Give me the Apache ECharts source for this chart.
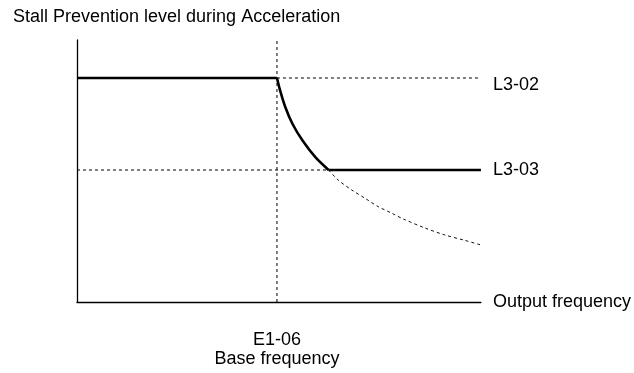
<!DOCTYPE html>
<html>
<head>
<meta charset="utf-8">
<script src="https://cdn.jsdelivr.net/npm/echarts@6/dist/echarts.min.js"></script>
<style>
  html, body { margin: 0; padding: 0; background: #fff; }
  #chart { width: 634px; height: 373px; }
</style>
</head>
<body>
<div id="chart"></div>
<script>
// values (frequency in % of axis, level in arbitrary units)
const baseFreq = 50;
const freqMax = 101;
const levelMax = 131;
const levelHigh = 112; // L3-02
const levelLow = 66;   // L3-03

// solid falling curve from base frequency down to L3-03
const curveX = [50, 50.8, 52.1, 53.9, 56.4, 59.6, 62.9];
const curveY = [112, 105.7, 97.4, 89, 80.7, 72.4, 66];

// dotted continuation of the curve below L3-03
const tailX = [62.9, 65.3, 68.7, 72, 75.3, 78.7, 81.6, 87, 92, 97, 101];
const tailY = [66, 61, 56, 51.9, 47.7, 44.4, 41.5, 37, 33.5, 30.8, 28.5];

const font = "Liberation Sans";
const txt = { color: "#000", fontFamily: font, fontSize: 18 };

const zip = (xs, ys) => xs.map((x, i) => [x, ys[i]]);

const dashStyle = { color: "#000", width: 1, type: [3, 3] };
const solidStyle = { color: "#000", width: 2.6 };

const chart = echarts.init(document.getElementById("chart"));
chart.setOption({
  animation: false,
  title: {
    text: "Stall Prevention level during Acceleration",
    left: 13,
    top: 8,
    padding: 0,
    textStyle: Object.assign({ fontWeight: "normal" }, txt),
  },
  grid: { left: 77, top: 40, right: 153, bottom: 71 },
  xAxis: {
    type: "value",
    min: 0,
    max: freqMax,
    name: "Output frequency",
    nameLocation: "end",
    nameGap: 12,
    nameTextStyle: Object.assign({ verticalAlign: "middle" }, txt),
    axisLine: { show: true, lineStyle: { color: "#000", width: 1.3 } },
    axisTick: { show: false },
    splitLine: { show: false },
    axisLabel: {
      customValues: [baseFreq],
      formatter: () => "E1-06\nBase frequency",
      margin: 29,
      lineHeight: 19,
      color: "#000",
      fontFamily: font,
      fontSize: 18,
    },
  },
  yAxis: {
    type: "value",
    min: 0,
    max: levelMax,
    axisLine: { show: true, lineStyle: { color: "#000", width: 1.3 } },
    axisTick: { show: false },
    axisLabel: { show: false },
    splitLine: { show: false },
  },
  series: [
    {
      type: "line",
      data: [[baseFreq, 0], [baseFreq, levelMax]],
      symbol: "none",
      lineStyle: dashStyle,
      z: 1,
    },
    {
      type: "line",
      data: [[baseFreq, levelHigh], [freqMax, levelHigh]],
      symbol: "none",
      lineStyle: dashStyle,
      endLabel: Object.assign({ show: true, formatter: "L3-02", distance: 12, offset: [0, 7] }, txt),
      z: 1,
    },
    {
      type: "line",
      data: [[0, levelLow], [curveX[curveX.length - 1], levelLow]],
      symbol: "none",
      lineStyle: dashStyle,
      z: 1,
    },
    {
      type: "line",
      data: zip(tailX, tailY),
      symbol: "none",
      smooth: 0.3,
      lineStyle: { color: "#111", width: 1, type: [3, 3] },
      z: 1,
    },
    {
      type: "line",
      data: [[0, levelHigh], [baseFreq, levelHigh]],
      symbol: "none",
      lineStyle: solidStyle,
      z: 3,
    },
    {
      type: "line",
      data: zip(curveX, curveY),
      symbol: "none",
      smooth: 0.3,
      lineStyle: solidStyle,
      z: 3,
    },
    {
      type: "line",
      data: [[curveX[curveX.length - 1], levelLow], [freqMax, levelLow]],
      symbol: "none",
      lineStyle: solidStyle,
      endLabel: Object.assign({ show: true, formatter: "L3-03", distance: 12 }, txt),
      z: 3,
    },
  ],
});
</script>
</body>
</html>
